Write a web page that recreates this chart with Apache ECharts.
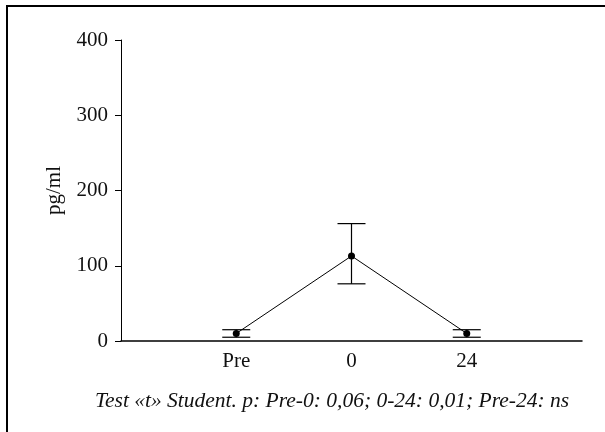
<!DOCTYPE html>
<html>
<head>
<meta charset="utf-8">
<script src="https://cdn.jsdelivr.net/npm/echarts@6/dist/echarts.min.js"></script>
<style>html,body{margin:0;padding:0;background:#fff;}#c{width:605px;height:432px;}</style>
</head>
<body>
<div id="c"></div>
<script>
var categories = ['', 'Pre', '0', '24', ''];
var means = [null, 10, 113, 10, null];
var lowers = [null, 5, 76, 5, null];
var uppers = [null, 15, 156, 15, null];
var yTicks = [0, 100, 200, 300, 400];
var yName = 'pg/ml';
var caption = 'Test «t» Student. p: Pre-0: 0,06; 0-24: 0,01; Pre-24: ns';

var errData = [];
for (var i = 0; i < categories.length; i++) {
  if (means[i] !== null) errData.push([i, lowers[i], uppers[i]]);
}
var FONT = '"Liberation Serif", "Times New Roman", serif';
var chart = echarts.init(document.getElementById('c'), null, {renderer: 'canvas'});
chart.setOption({
  animation: false,
  backgroundColor: '#fff',
  grid: {left: 121, right: 23, top: 40, bottom: 91, containLabel: false},
  title: {
    text: caption, left: 90, top: 385,
    textStyle: {fontFamily: FONT, fontStyle: 'italic', fontWeight: 'normal', fontSize: 21.5, color: '#111'}
  },
  graphic: [{
    type: 'rect', silent: true,
    shape: {x: 7, y: 6, width: 800, height: 600},
    style: {fill: 'none', stroke: '#000', lineWidth: 2}
  }],
  xAxis: {
    type: 'category', data: categories, boundaryGap: false,
    axisLine: {lineStyle: {color: '#000', width: 1.5}},
    axisTick: {show: false},
    axisLabel: {fontFamily: FONT, fontSize: 21, color: '#111', margin: 10, interval: 0},
    splitLine: {show: false}
  },
  yAxis: {
    type: 'value', min: yTicks[0], max: yTicks[yTicks.length - 1], interval: 100,
    name: yName, nameLocation: 'middle', nameGap: 56, nameRotate: 90,
    nameTextStyle: {fontFamily: FONT, fontSize: 21, color: '#111'},
    axisLine: {show: true, lineStyle: {color: '#000', width: 1}},
    axisTick: {show: true, length: 6, lineStyle: {color: '#000'}},
    axisLabel: {fontFamily: FONT, fontSize: 21, color: '#111', margin: 13},
    splitLine: {show: false}
  },
  series: [{
    type: 'line', data: means, connectNulls: false,
    symbol: 'circle', symbolSize: 7,
    itemStyle: {color: '#000'},
    lineStyle: {color: '#000', width: 1},
    z: 3
  }, {
    type: 'custom', data: errData, z: 2,
    renderItem: function (params, api) {
      var x = api.value(0);
      var lo = api.coord([x, api.value(1)]);
      var hi = api.coord([x, api.value(2)]);
      var hw = 14;
      var st = {stroke: '#000', lineWidth: 1.2};
      return {type: 'group', children: [
        {type: 'line', shape: {x1: lo[0], y1: lo[1], x2: hi[0], y2: hi[1]}, style: st},
        {type: 'line', shape: {x1: lo[0] - hw, y1: lo[1], x2: lo[0] + hw, y2: lo[1]}, style: st},
        {type: 'line', shape: {x1: hi[0] - hw, y1: hi[1], x2: hi[0] + hw, y2: hi[1]}, style: st}
      ]};
    }
  }]
});
</script>
</body>
</html>
